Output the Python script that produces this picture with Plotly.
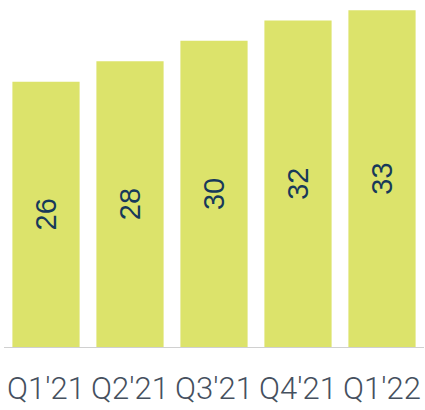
import plotly.graph_objects as go

quarters = ["Q1'21", "Q2'21", "Q3'21", "Q4'21", "Q1'22"]
values = [26, 28, 30, 32, 33]

fig = go.Figure(
    go.Bar(
        x=quarters,
        y=values,
        text=[str(v) for v in values],
        textposition="inside",
        insidetextanchor="middle",
        textangle=-90,
        textfont=dict(family="Liberation Sans, Arial, sans-serif", size=29, color="#17395a"),
        marker=dict(color="#dce36b", line=dict(width=0)),
        hoverinfo="skip",
    )
)

fig.update_layout(
    width=425,
    height=410,
    margin=dict(l=4, r=1, t=0, b=63),
    paper_bgcolor="white",
    plot_bgcolor="white",
    bargap=0.2,
    showlegend=False,
)

fig.update_xaxes(
    automargin=False,
    showgrid=False,
    showline=True,
    linecolor="#d0d0d0",
    linewidth=1,
    ticks="",
    ticklabelstandoff=14,
    tickfont=dict(family="Roboto, Lato, sans-serif", size=31, color="#45505e", weight=300),
)
fig.update_yaxes(visible=False, range=[0, 34])

fig.write_html("out.html")
